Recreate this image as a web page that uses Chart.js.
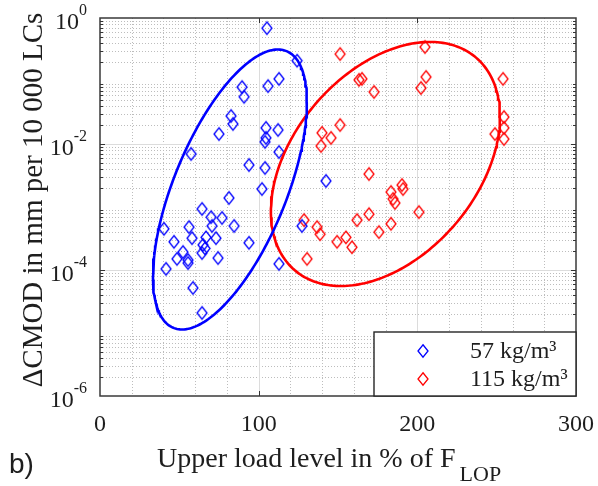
<!DOCTYPE html>
<html>
<head>
<meta charset="utf-8">
<script src="https://cdn.jsdelivr.net/npm/chart.js@4.4.1/dist/chart.umd.min.js"></script>
<style>
  html, body { margin: 0; padding: 0; background: #fff; }
  canvas { display: block; }
</style>
</head>
<body>
<canvas id="c" width="598" height="486"></canvas>
<script>
// Axis ticks
const xTicks = [0, 100, 200, 300];
const yTickExps = [0, -2, -4, -6];
const legendLabels = ['57 kg/m³', '115 kg/m³'];

// 57 kg/m³ fibre content: upper load level (% of F_LOP) and ΔCMOD per 10 000 load cycles
const load57 = [105.2, 124.2, 105.9, 112.8, 89.5, 90.8, 82.6, 83.8, 75.0, 104.6,
  112.2, 104.6, 104.0, 57.4, 112.8, 93.9, 104.0, 102.1, 81.3, 64.3,
  70.0, 76.9, 56.1, 40.3, 84.5, 70.6, 58.0, 66.8, 73.1, 46.6,
  93.9, 64.9, 66.2, 64.3, 52.3, 74.4, 48.5, 55.5, 55.5, 41.6,
  112.8, 58.6, 64.3, 127.3, 142.4];
const dcmod57 = [0.69, 0.21, 0.083, 0.108, 0.080, 0.056, 0.0278, 0.0208, 0.0144, 0.0180,
  0.0167, 0.0125, 0.0108, 0.00694, 0.00746, 0.00464, 0.00416, 0.00193, 0.00139, 0.00093,
  0.00069, 0.00067, 0.00048, 0.00045, 0.00050, 0.00050, 0.00032, 0.00033, 0.00032, 0.00028,
  0.00027, 0.00025, 0.00022, 0.000186, 0.000193, 0.000155, 0.00015, 0.000144, 0.000129, 0.000104,
  0.000125, 0.0000518, 0.0000208, 0.00050, 0.00259];

// 115 kg/m³ fibre content
const load115 = [151.3, 204.8, 163.2, 165.1, 172.7, 205.5, 202.3, 254.0, 254.6, 248.9,
  254.6, 254.6, 151.3, 139.9, 145.6, 139.3, 169.5, 190.3, 191.0, 183.4,
  184.7, 185.9, 201.0, 169.5, 162.0, 128.6, 136.8, 138.7, 149.4, 155.0,
  158.8, 175.8, 183.4, 130.5];
const dcmod115 = [0.268, 0.346, 0.104, 0.108, 0.0669, 0.116, 0.0774, 0.108, 0.0268, 0.0144,
  0.0180, 0.0120, 0.0200, 0.0150, 0.0125, 0.0093, 0.00334, 0.00223, 0.00193, 0.00173,
  0.00134, 0.00116, 0.00083, 0.00077, 0.00062, 0.00062, 0.00048, 0.00037, 0.00028, 0.00033,
  0.00023, 0.00040, 0.00054, 0.00015];

// Scatter ellipses in (load, log10 ΔCMOD) space: centre, spreads and correlation
const ellipse57 = { cx: 81.9, cLog: -2.722, sx: 48.5, sLog: 2.222, rho: 0.623 };
const ellipse115 = { cx: 179.9, cLog: -2.317, sx: 72.2, sLog: 1.937, rho: 0.389 };

const BLUE = '#0000ff';
const RED = '#ff0000';
const INK = '#1e1e1e';
const SERIF = '"Liberation Serif", "Times New Roman", Times, serif';
const SANS = '"Liberation Sans", Arial, Helvetica, sans-serif';

function ellipseOutline(e) {
  const pts = [];
  const k = Math.sqrt(1 - e.rho * e.rho);
  for (let i = 0; i <= 240; i++) {
    const t = (i / 240) * 2 * Math.PI;
    const c = Math.cos(t), s = Math.sin(t);
    pts.push({ x: e.cx + e.sx * c, y: Math.pow(10, e.cLog + e.sLog * (e.rho * c + k * s)) });
  }
  return pts;
}

function diamondSprite(color, w, h, lw) {
  const cv = document.createElement('canvas');
  cv.width = Math.ceil(w + 4);
  cv.height = Math.ceil(h + 4);
  const g = cv.getContext('2d');
  const cx = cv.width / 2, cy = cv.height / 2;
  g.strokeStyle = color;
  g.lineWidth = lw;
  g.beginPath();
  g.moveTo(cx, cy - h / 2);
  g.lineTo(cx + w / 2, cy);
  g.lineTo(cx, cy + h / 2);
  g.lineTo(cx - w / 2, cy);
  g.closePath();
  g.stroke();
  return cv;
}

const blueDiamond = diamondSprite(BLUE, 10, 12.5, 1.3);
const redDiamond = diamondSprite(RED, 10, 12.5, 1.3);

const pts57 = load57.map((x, i) => ({ x, y: dcmod57[i] }));
const pts115 = load115.map((x, i) => ({ x, y: dcmod115[i] }));

function drawDiamond(ctx, x, y, w, h, color) {
  ctx.save();
  ctx.strokeStyle = color;
  ctx.lineWidth = 1.3;
  ctx.beginPath();
  ctx.moveTo(x, y - h / 2);
  ctx.lineTo(x + w / 2, y);
  ctx.lineTo(x, y + h / 2);
  ctx.lineTo(x - w / 2, y);
  ctx.closePath();
  ctx.stroke();
  ctx.restore();
}

const axesDecor = {
  id: 'axesDecor',
  beforeDatasetsDraw(chart) {
    const { ctx, chartArea: a, scales: { x, y } } = chart;
    ctx.save();
    ctx.lineWidth = 1;
    // minor grid (dotted)
    ctx.strokeStyle = '#bdbdbd';
    ctx.setLineDash([1, 2]);
    ctx.beginPath();
    for (let v = 20; v < 300; v += 20) {
      if (v % 100 === 0) continue;
      const px = Math.round(x.getPixelForValue(v)) + 0.5;
      ctx.moveTo(px, a.top); ctx.lineTo(px, a.bottom);
    }
    for (let e = -6; e < 0; e++) {
      for (let m = 2; m <= 9; m++) {
        const py = Math.round(y.getPixelForValue(m * Math.pow(10, e))) + 0.5;
        ctx.moveTo(a.left, py); ctx.lineTo(a.right, py);
      }
    }
    ctx.stroke();
    // major grid (solid)
    ctx.setLineDash([]);
    ctx.strokeStyle = '#dcdcdc';
    ctx.beginPath();
    [100, 200].forEach(v => {
      const px = Math.round(x.getPixelForValue(v)) + 0.5;
      ctx.moveTo(px, a.top); ctx.lineTo(px, a.bottom);
    });
    [-2, -4].forEach(e => {
      const py = Math.round(y.getPixelForValue(Math.pow(10, e))) + 0.5;
      ctx.moveTo(a.left, py); ctx.lineTo(a.right, py);
    });
    ctx.stroke();
    ctx.restore();
  },
  afterDatasetsDraw(chart) {
    const { ctx, chartArea: a, scales: { x, y } } = chart;
    ctx.save();
    // tick marks, pointing inwards on all four sides
    ctx.strokeStyle = '#333';
    ctx.lineWidth = 1;
    ctx.beginPath();
    [100, 200].forEach(v => {
      const px = Math.round(x.getPixelForValue(v)) + 0.5;
      ctx.moveTo(px, a.bottom); ctx.lineTo(px, a.bottom - 5);
      ctx.moveTo(px, a.top); ctx.lineTo(px, a.top + 5);
    });
    [-2, -4].forEach(e => {
      const py = Math.round(y.getPixelForValue(Math.pow(10, e))) + 0.5;
      ctx.moveTo(a.left, py); ctx.lineTo(a.left + 5, py);
      ctx.moveTo(a.right, py); ctx.lineTo(a.right - 5, py);
    });
    for (let e = -6; e < 0; e++) {
      for (let m = 2; m <= 9; m++) {
        const py = Math.round(y.getPixelForValue(m * Math.pow(10, e))) + 0.5;
        ctx.moveTo(a.left, py); ctx.lineTo(a.left + 3, py);
        ctx.moveTo(a.right, py); ctx.lineTo(a.right - 3, py);
      }
    }
    ctx.stroke();
    // axes box
    ctx.strokeStyle = '#3a3a3a';
    ctx.lineWidth = 1.5;
    ctx.strokeRect(a.left, a.top, a.right - a.left, a.bottom - a.top);

    // legend
    const lx = 374, ly = 332;
    ctx.fillStyle = '#fff';
    ctx.fillRect(lx, ly, a.right - lx, a.bottom - ly);
    ctx.strokeStyle = '#262626';
    ctx.lineWidth = 1.4;
    ctx.strokeRect(lx, ly, a.right - lx, a.bottom - ly);
    drawDiamond(ctx, 423, 351, 10, 12.5, BLUE);
    drawDiamond(ctx, 423, 379, 10, 12.5, RED);
    ctx.fillStyle = INK;
    ctx.font = '24px ' + SERIF;
    ctx.textAlign = 'left';
    ctx.textBaseline = 'middle';
    ctx.fillText(legendLabels[0], 470, 352);
    ctx.fillText(legendLabels[1], 470, 380);

    // x tick labels
    ctx.font = '24px ' + SERIF;
    ctx.textAlign = 'center';
    ctx.textBaseline = 'middle';
    xTicks.forEach(v => ctx.fillText(String(v), x.getPixelForValue(v), 425));

    // y tick labels: 10 with superscript exponent, right aligned
    yTickExps.forEach(e => {
      const py = y.getPixelForValue(Math.pow(10, e));
      const exp = String(e);
      ctx.font = '16px ' + SERIF;
      const ew = ctx.measureText(exp).width;
      ctx.textAlign = 'left';
      ctx.textBaseline = 'middle';
      ctx.fillText(exp, 87 - ew, py - 7);
      ctx.font = '24px ' + SERIF;
      ctx.textAlign = 'right';
      ctx.fillText('10', 87 - ew, py + 5);
    });

    // x axis title with subscript
    ctx.textAlign = 'left';
    ctx.textBaseline = 'alphabetic';
    ctx.font = '28px ' + SERIF;
    const main = 'Upper load level in % of F';
    const mw = ctx.measureText(main).width;
    const tx = 157;
    ctx.fillText(main, tx, 467);
    ctx.font = '22px ' + SERIF;
    ctx.fillText('LOP', tx + mw + 4, 481);

    // y axis title
    ctx.save();
    ctx.translate(34, 200);
    ctx.rotate(-Math.PI / 2);
    ctx.font = '29px ' + SERIF;
    ctx.textAlign = 'center';
    ctx.textBaseline = 'middle';
    ctx.fillText('ΔCMOD in mm per 10 000 LCs', 0, 0);
    ctx.restore();

    // panel label
    ctx.font = '28px ' + SANS;
    ctx.textAlign = 'left';
    ctx.textBaseline = 'alphabetic';
    ctx.fillText('b)', 9, 473);
    ctx.restore();
  }
};

new Chart(document.getElementById('c'), {
  type: 'scatter',
  data: {
    datasets: [
      { label: legendLabels[0], data: pts57, pointStyle: blueDiamond, showLine: false, order: 2 },
      { label: legendLabels[1], data: pts115, pointStyle: redDiamond, showLine: false, order: 2 },
      { label: 'ellipse57', data: ellipseOutline(ellipse57), showLine: true, borderColor: BLUE,
        borderWidth: 2.6, pointRadius: 0, fill: false, tension: 0, order: 1 },
      { label: 'ellipse115', data: ellipseOutline(ellipse115), showLine: true, borderColor: RED,
        borderWidth: 2.6, pointRadius: 0, fill: false, tension: 0, order: 1 }
    ]
  },
  options: {
    responsive: false,
    animation: false,
    events: [],
    layout: { padding: { left: 100, right: 22, top: 18, bottom: 90 } },
    plugins: { legend: { display: false }, tooltip: { enabled: false } },
    scales: {
      x: {
        type: 'linear', min: 0, max: 300,
        grid: { display: false }, border: { display: false }, ticks: { display: false },
        afterFit(s) { s.height = 0; }
      },
      y: {
        type: 'logarithmic', min: 1e-6, max: 1,
        grid: { display: false }, border: { display: false }, ticks: { display: false },
        afterFit(s) { s.width = 0; }
      }
    }
  },
  plugins: [axesDecor]
});
</script>
</body>
</html>
